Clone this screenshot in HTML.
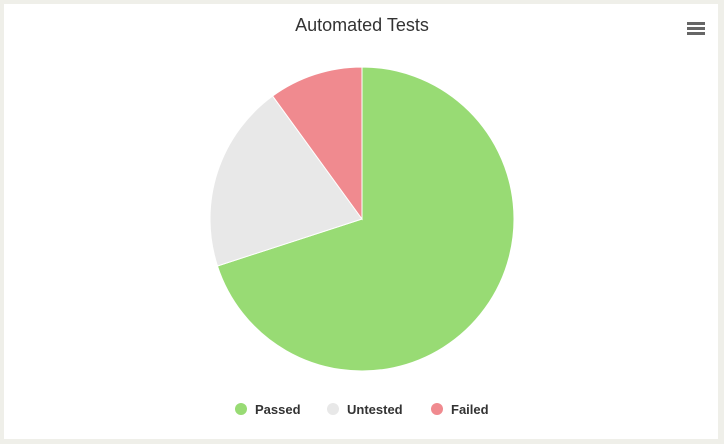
<!DOCTYPE html>
<html><head><meta charset="utf-8"><style>
html,body{margin:0;padding:0;background:#efefe9;width:724px;height:444px;overflow:hidden;font-family:"Liberation Sans",sans-serif}
#card{position:absolute;left:4px;top:4px;width:714px;height:435px;background:#fff}
</style></head><body>
<div id="card"></div>
<svg id="chart" width="724" height="444" style="position:absolute;left:0;top:0">
<text x="362" y="31" text-anchor="middle" font-size="18" fill="#333">Automated Tests</text>
<g>
<rect x="687" y="22" width="18" height="3" fill="#666"/><rect x="687" y="27" width="18" height="3" fill="#666"/><rect x="687" y="32" width="18" height="3" fill="#666"/>
</g>
<g id="slices"></g>
<g id="legend"></g>
</svg>
<script>
const categories=["Passed","Untested","Failed"];
const values=[70,20,10];
const colors=["#98db74","#e8e8e8","#f08a8f"];
const cx=362,cy=219,r=152;
const svgNS="http://www.w3.org/2000/svg";
const g=document.getElementById('slices');
const total=values.reduce((a,b)=>a+b,0);
let a0=0;
function pt(a){return [cx+r*Math.sin(a),cy-r*Math.cos(a)];}
values.forEach((v,i)=>{
  const a1=a0+v/total*2*Math.PI;
  const p0=pt(a0),p1=pt(a1);
  const large=(a1-a0)>Math.PI?1:0;
  const p=document.createElementNS(svgNS,'path');
  p.setAttribute('d',`M${cx},${cy}L${p0[0]},${p0[1]}A${r},${r} 0 ${large} 1 ${p1[0]},${p1[1]}Z`);
  p.setAttribute('fill',colors[i]);p.setAttribute('stroke','#fff');p.setAttribute('stroke-width','1');
  
  
  g.appendChild(p);a0=a1;
});
const lg=document.getElementById('legend');
const lx=[241,333,437];
categories.forEach((c,i)=>{
  const e=document.createElementNS(svgNS,'g');
  
  
  e.innerHTML=`<circle cx="${lx[i]}" cy="409" r="6" fill="${colors[i]}"/><text x="${lx[i]+14}" y="414" font-size="13" font-weight="bold" fill="#333">${c}</text>`;
  lg.appendChild(e);
});
</script>
</body></html>
